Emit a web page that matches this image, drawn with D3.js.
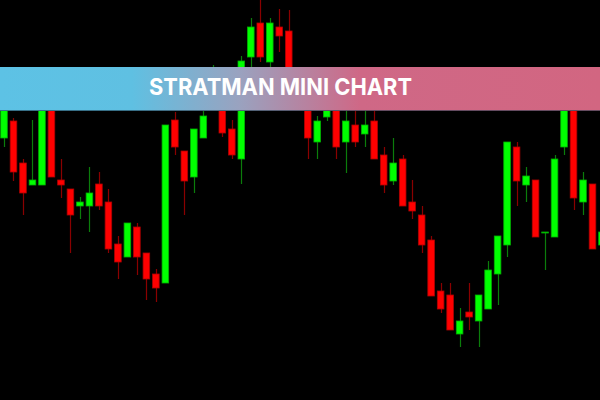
<!DOCTYPE html>
<html><head><meta charset="utf-8">
<script src="https://cdn.jsdelivr.net/npm/d3@7/dist/d3.min.js"></script>
<style>html,body{margin:0;padding:0;background:#000;}svg{display:block;}</style>
</head><body>
<svg id="chart" width="600" height="400"></svg>
<script>
// Price data (arbitrary units), one entry per candle
const opens  = [262,279,237,215,215,302,220,211,194,194,216,198,156,143,173,147,126,117,280,249,223,262,292,310,271,241,343,377,338,373,369,312,300,258,283,300,258,275,266,279,245,219,241,198,185,160,109,105,66,88,79,91,126,155,253,215,220,167.5,163,253,305,198,216,155];
const highs  = [308,282,241,280,305,308,241,211,203,233,228,211,164,177,177,147,131,275,288,249,271,295,335,315,280,344,382,400,382,391,390,320,305,284,308,305,292,292,295,295,253,262,245,220,194,164,117,117,92,117,105,139,164,258,258,233,220,168,245,305,310,228,216,168];
const lows   = [253,219,185,215,215,223,202,147,181,168,190,147,121,143,125,100,98,117,245,185,207,262,290,263,241,216,328,338,330,348,300,290,241,241,279,241,227,253,253,241,207,215,194,181,147,104,87,70,53,70,53,91,95,143,194,198,163,130,163,245,190,185,151,155];
const closes = [300,228,207,220,300,223,215,185,198,207,194,151,138,177,143,121,112,275,253,219,271,284,315,267,245,339,373,343,377,364,310,295,262,279,302,253,279,258,275,241,215,237,194,189,155,104,91,70,79,83,105,130,164,258,219,224,163,168,241,300,202,220,151,168];

const W = 600, H = 400;
const svg = d3.select("#chart");
svg.append("rect").attr("width", W).attr("height", H).attr("fill", "#000");

const x = d3.scalePoint().domain(d3.range(opens.length)).range([4, 602]);
const y = d3.scaleLinear().domain([0, 400]).range([400, 0]);
const bodyW = 6.6;

const data = opens.map((o, i) => ({i, o, h: highs[i], l: lows[i], c: closes[i], up: closes[i] >= o}));

const g = svg.append("g");
const cndl = g.selectAll("g.c").data(data).join("g").attr("class", "c");

cndl.append("line")
  .attr("x1", d => Math.round(x(d.i)) + 0.5).attr("x2", d => Math.round(x(d.i)) + 0.5)
  .attr("y1", d => y(d.h)).attr("y2", d => y(d.l))
  .attr("stroke", d => d.up ? "#0b7d0b" : "#8a0000").attr("stroke-width", 1.2);

cndl.append("rect")
  .attr("x", d => x(d.i) - bodyW / 2)
  .attr("width", bodyW)
  .attr("y", d => y(Math.max(d.o, d.c)))
  .attr("height", d => Math.max(1, Math.abs(y(d.o) - y(d.c))))
  .attr("fill", d => d.up ? "#00ff00" : "#ff0000")
  .attr("stroke", d => d.up ? "#00b000" : "#b00000")
  .attr("stroke-width", 0.8);

// Banner
const defs = svg.append("defs");
const grad = defs.append("linearGradient").attr("id", "bg").attr("x1", "0%").attr("x2", "100%");
grad.append("stop").attr("offset", "0%").attr("stop-color", "#5dc2e5");
grad.append("stop").attr("offset", "22%").attr("stop-color", "#5fc0e2");
grad.append("stop").attr("offset", "40%").attr("stop-color", "#9aa2bf");
grad.append("stop").attr("offset", "60%").attr("stop-color", "#cf6886");
grad.append("stop").attr("offset", "100%").attr("stop-color", "#d26681");

svg.append("rect").attr("x", 0).attr("y", 67).attr("width", W).attr("height", 44)
  .attr("fill", "url(#bg)");
svg.append("line").attr("x1", 0).attr("x2", W).attr("y1", 110.5).attr("y2", 110.5)
  .attr("stroke", "#1e3a4a").attr("stroke-width", 1).attr("opacity", 0.6);

svg.append("text")
  .attr("x", 280.5).attr("y", 95)
  .attr("text-anchor", "middle")
  .attr("font-family", "Inter, 'Open Sans', sans-serif")
  .attr("font-weight", 700)
  .attr("font-size", 23.5)
  .attr("fill", "#ffffff")
  .attr("textLength", 263).attr("lengthAdjust", "spacingAndGlyphs")
  .text("STRATMAN MINI CHART");
</script>
</body></html>
